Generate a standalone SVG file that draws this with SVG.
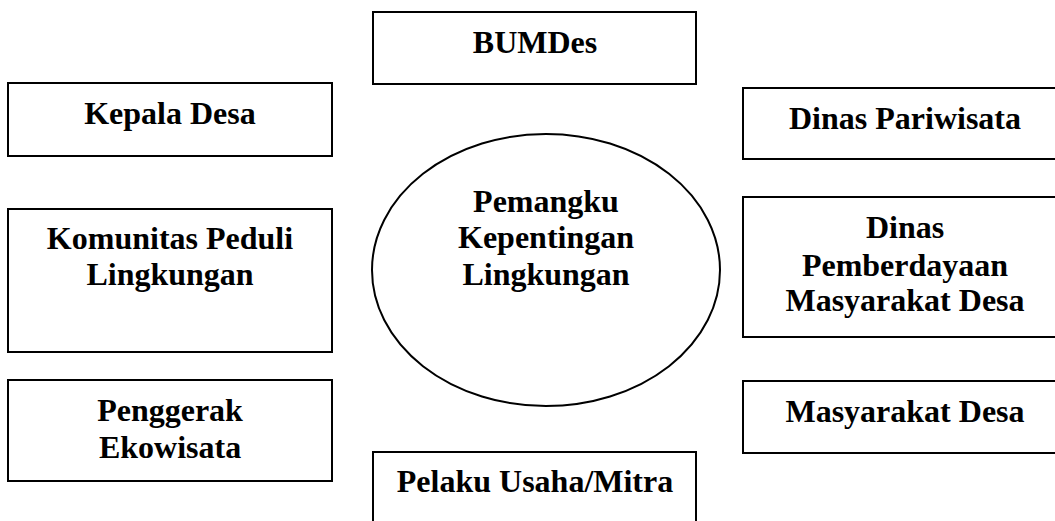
<svg xmlns="http://www.w3.org/2000/svg" width="1055" height="521" viewBox="0 0 1055 521">
<style>
.box{fill:#fff;stroke:#000;stroke-width:2}
.t{font-family:"Liberation Serif","Times New Roman",serif;font-weight:bold;font-size:32px;text-anchor:middle;fill:#000}
</style>
<rect width="1055" height="521" fill="#fff"/>
<g id="connectors"></g>
<g id="center">
<ellipse class="box" cx="546" cy="270" rx="174" ry="136"/>
<text class="t" x="546" y="212">Pemangku</text>
<text class="t" x="546" y="248">Kepentingan</text>
<text class="t" x="546" y="285">Lingkungan</text>
</g>
<g id="bumdes">
<rect class="box" x="373" y="12" width="323" height="72"/>
<text class="t" x="535" y="53">BUMDes</text>
</g>
<g id="kepala-desa">
<rect class="box" x="8" y="83" width="324" height="73"/>
<text class="t" x="170" y="124">Kepala Desa</text>
</g>
<g id="komunitas">
<rect class="box" x="8" y="209" width="324" height="143"/>
<text class="t" x="170" y="249">Komunitas Peduli</text>
<text class="t" x="170" y="285">Lingkungan</text>
</g>
<g id="penggerak">
<rect class="box" x="8" y="380" width="324" height="101"/>
<text class="t" x="170" y="421">Penggerak</text>
<text class="t" x="170" y="458">Ekowisata</text>
</g>
<g id="pelaku">
<rect class="box" x="373" y="452" width="323" height="90"/>
<text class="t" x="535" y="492">Pelaku Usaha/Mitra</text>
</g>
<g id="dinas-pariwisata">
<rect class="box" x="743" y="88" width="323" height="71"/>
<text class="t" x="905" y="129">Dinas Pariwisata</text>
</g>
<g id="dinas-pmd">
<rect class="box" x="743" y="197" width="323" height="140"/>
<text class="t" x="905" y="238">Dinas</text>
<text class="t" x="905" y="276">Pemberdayaan</text>
<text class="t" x="905" y="311">Masyarakat Desa</text>
</g>
<g id="masyarakat-desa">
<rect class="box" x="743" y="381" width="323" height="72"/>
<text class="t" x="905" y="422">Masyarakat Desa</text>
</g>
</svg>
